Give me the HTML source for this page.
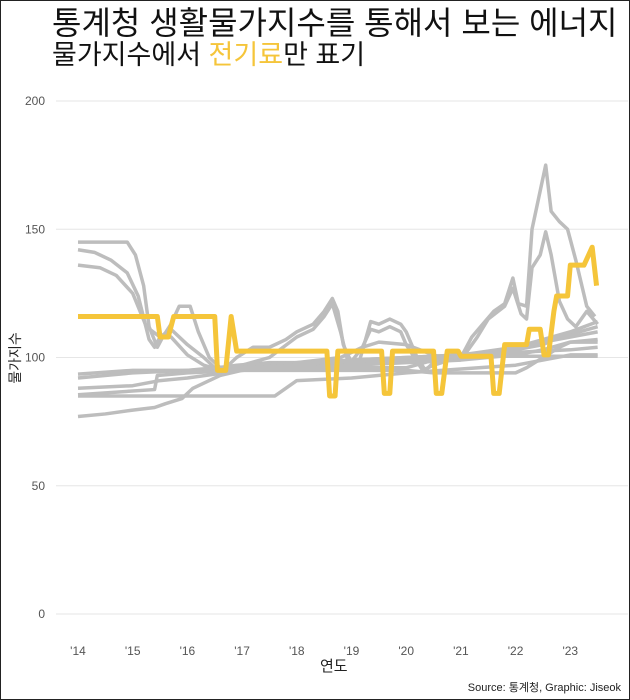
<!DOCTYPE html>
<html><head><meta charset="utf-8"><style>
body{margin:0;background:#fff;}
#c{position:relative;width:628px;height:698px;border:1px solid #222;overflow:hidden;font-family:"Liberation Sans","Noto Sans CJK KR",sans-serif;}
</style></head><body>
<div id="c">
<svg id="svg" width="628" height="698"></svg>
</div>
<script>
const yTicks=[0,50,100,150,200];
const xTicks=[2014,2015,2016,2017,2018,2019,2020,2021,2022,2023];
const xTickLabels=["'14","'15","'16","'17","'18","'19","'20","'21","'22","'23"];
const g1x=[2014,2014.9,2015.05,2015.2,2015.3,2015.45,2015.55,2015.7,2015.85,2016.05,2016.2,2016.4,2016.6,2016.9,2017.5,2018,2018.4,2018.8,2019.2,2019.5,2020,2020.5,2020.8,2021,2021.5,2022,2022.5,2022.8,2023,2023.5];
const g1y=[145,145,140,128,112,104,108,113,120,120,110,100,96,97,98,98,99,100,104,106,105,101,99,101,101,103,105,108,109,112];
const g2x=[2014,2014.3,2014.6,2014.9,2015.1,2015.3,2015.4,2015.5,2015.7,2016,2016.3,2016.6,2016.9,2017.2,2017.5,2017.8,2018,2018.3,2018.5,2018.65,2018.75,2018.85,2019,2019.15,2019.35,2019.5,2019.7,2019.9,2020,2020.2,2020.35,2020.5,2020.8,2021,2021.2,2021.4,2021.6,2021.8,2021.95,2022.05,2022.2,2022.3,2022.45,2022.55,2022.65,2022.8,2022.95,2023.1,2023.3,2023.45];
const g2y=[142,141,138,133,124,107,104,108,111,105,100,94,100,104,104,107,110,113,118,123,118,105,98,99,114,113,115,113,110,100,95,98,99,100,108,113,118,121,131,121,120,150,165,175,157,153,150,138,120,116];
const g3x=[2014,2014.4,2014.7,2015,2015.25,2015.5,2015.7,2016,2016.3,2016.6,2017,2017.5,2018,2018.3,2018.5,2018.65,2018.8,2018.95,2019.2,2019.35,2019.5,2019.7,2019.9,2020,2020.3,2020.5,2020.8,2021.1,2021.3,2021.5,2021.8,2021.95,2022.1,2022.2,2022.3,2022.45,2022.55,2022.65,2022.8,2022.95,2023.1,2023.3,2023.5];
const g3y=[136,135,132,125,112,108,108,101,97,95,97,100,108,111,116,121,110,97,104,111,110,112,110,105,95,97,99,102,108,115,120,127,117,115,135,140,149,140,122,115,112,118,113];
const g4x=[2014,2015,2016,2017,2018,2019,2020,2021,2022,2022.5,2023,2023.5];
const g4y=[93.5,95,95,97,98,99,100,101,104,107,110,114];
const g5x=[2014,2015,2016,2017,2018,2019,2020,2021,2022,2022.5,2023,2023.5];
const g5y=[92,94,95,96,97,98,99,100,103,106,108,110];
const g6x=[2014,2015,2015.5,2016,2016.5,2017,2018,2019,2020,2021,2022,2022.5,2023,2023.5];
const g6y=[88,89,91,92,93.5,95,96,97,98,99,101,103,106,107];
const g7x=[2014,2015,2016,2017,2017.6,2018,2019,2020,2021,2022,2022.5,2023,2023.5];
const g7y=[85,85,85,85,85,91,92,94,95.5,97,99,101,101];
const g8x=[2014,2014.5,2015,2015.4,2015.6,2015.9,2016.1,2016.4,2016.6,2017,2018,2019,2020,2021,2022,2023,2023.5];
const g8y=[77,78,79.5,80.5,82,84,88,91,93,95,97,99,100,101,102,103,104];
const g9x=[2014,2015.4,2015.45,2016,2017,2018,2019,2020,2020.5,2021,2022,2022.2,2022.5,2022.8,2023,2023.5];
const g9y=[85.5,87.5,93,94,95,95,95,95,94,94,94,96,100,104,106,106];
const g10x=[2016.5,2017,2019,2020,2020.5,2021,2022,2023,2023.5];
const g10y=[96,96,96,96,99,100.5,100.5,100.5,100.5];
const elecX=[2014,2015.45,2015.5,2015.65,2015.75,2016.5,2016.55,2016.7,2016.8,2016.9,2018.55,2018.6,2018.7,2018.75,2019.55,2019.6,2019.7,2019.75,2020.5,2020.55,2020.65,2020.75,2020.95,2021.0,2021.55,2021.6,2021.7,2021.8,2022.2,2022.25,2022.45,2022.52,2022.6,2022.7,2022.75,2022.95,2023.0,2023.25,2023.4,2023.48];
const elecY=[116,116,108,108,116,116,95,95,116,102.5,102.5,85,85,102.5,102.5,86,86,102.5,102.5,86,86,102.5,102.5,100.5,100.5,86,86,105,105,111,111,101,101,118,124,124,136,136,143,128];
const grays=[[g1x,g1y],[g2x,g2y],[g3x,g3y],[g4x,g4y],[g5x,g5y],[g6x,g6y],[g7x,g7y],[g8x,g8y],[g9x,g9y],[g10x,g10y]];

const NS="http://www.w3.org/2000/svg";
const svg=document.getElementById('svg');
const X=v=>77+(v-2014)*54.7;
const Y=v=>613-v*2.565;
function mk(t,a,p){const e=document.createElementNS(NS,t);for(const k in a)e.setAttribute(k,a[k]);(p||svg).appendChild(e);return e;}

yTicks.forEach(v=>{
 const l=mk('line',{x1:55,x2:627,y1:Y(v),y2:Y(v),stroke:'#e6e6e6','stroke-width':1});
 
 
 const t=mk('text',{x:44,y:Y(v)+4,'text-anchor':'end','font-size':12,fill:'#555'});
 t.textContent=v;
 
 
});
xTicks.forEach((v,i)=>{
 const t=mk('text',{x:X(v),y:654,'text-anchor':'middle','font-size':12,fill:'#555'});
 t.textContent=xTickLabels[i];
 
 
});
grays.forEach(s=>{
 const p=mk('polyline',{points:s[0].map((x,i)=>X(x)+','+Y(s[1][i])).join(' '),fill:'none',stroke:'#bdbdbd','stroke-width':3.5,'stroke-linejoin':'round'});
 
 
});
const el=mk('polyline',{points:elecX.map((x,i)=>X(x)+','+Y(elecY[i])).join(' '),fill:'none',stroke:'#f5c53a','stroke-width':5,'stroke-linejoin':'round'});


</script>
<div style="position:absolute;left:52px;top:-2px;font-size:32px;color:#111;font-family:'Liberation Sans','Noto Sans CJK KR',sans-serif;white-space:nowrap;">통계청 생활물가지수를 통해서 보는 에너지</div>
<div style="position:absolute;left:52px;top:33px;font-size:27px;color:#111;font-family:'Liberation Sans','Noto Sans CJK KR',sans-serif;white-space:nowrap;">물가지수에서 <span style="color:#f5c53a">전기료</span>만 표기</div>
<div style="position:absolute;left:-11px;top:348px;transform:rotate(-90deg);font-size:14px;color:#222;font-family:'Liberation Sans','Noto Sans CJK KR',sans-serif;">물가지수</div>
<div style="position:absolute;left:320px;top:655px;font-size:15px;color:#222;font-family:'Liberation Sans','Noto Sans CJK KR',sans-serif;">연도</div>
<div style="position:absolute;right:9px;top:679px;font-size:11px;color:#222;font-family:'Liberation Sans','Noto Sans CJK KR',sans-serif;">Source: 통계청, Graphic: Jiseok</div>
</body></html>
